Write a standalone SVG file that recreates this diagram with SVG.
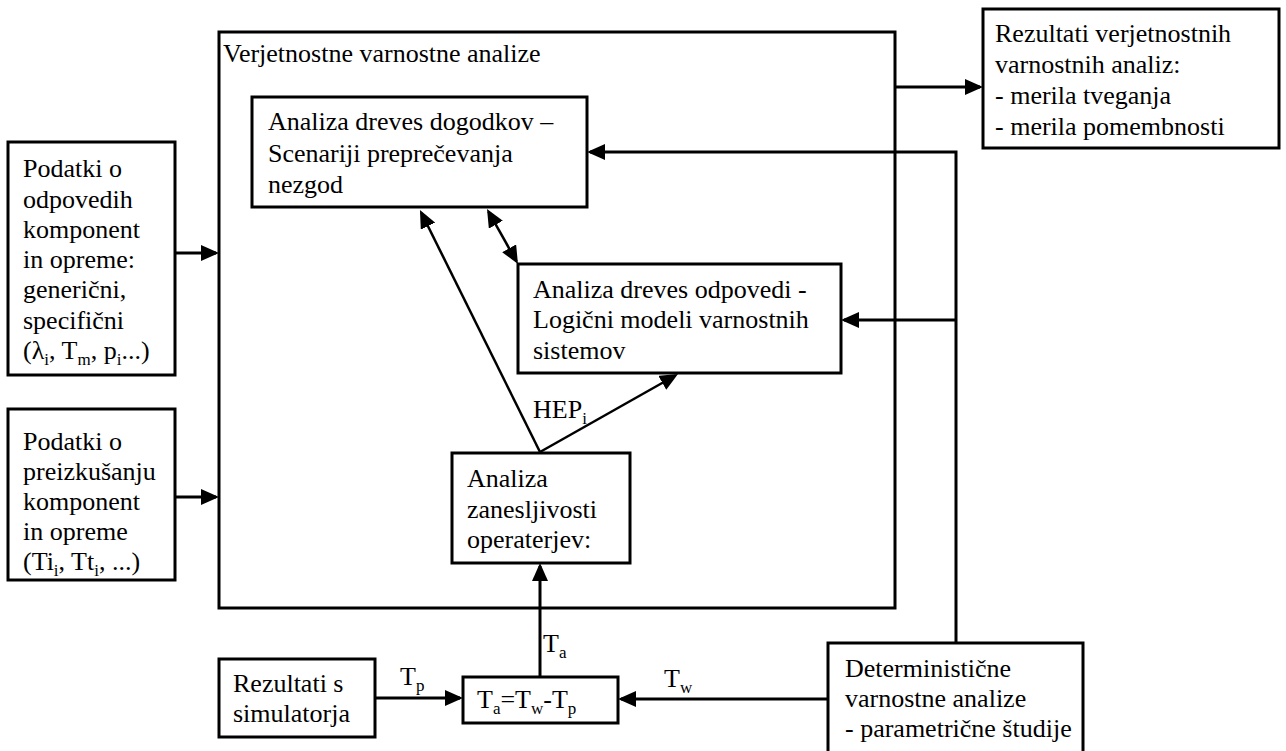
<svg xmlns="http://www.w3.org/2000/svg" width="1286" height="751" viewBox="0 0 1286 751" font-family="'Liberation Serif', 'Times New Roman', Times, 'DejaVu Serif', serif">
<style>
text{font-family:'Liberation Serif','Times New Roman',Times,'DejaVu Serif',serif;font-size:26px;fill:#000}
.box{fill:#fff;stroke:#000;stroke-width:3}
.big{fill:none;stroke:#000;stroke-width:3}
.c{fill:none;stroke:#000;stroke-width:3}
.d{fill:none;stroke:#000;stroke-width:2.5}
.ar{marker-end:url(#ah)}
.sub{font-size:17px}
</style>
<defs>
<marker id="ah" viewBox="0 0 18 16" refX="15" refY="8" markerWidth="18" markerHeight="16" markerUnits="userSpaceOnUse" orient="auto-start-reverse"><path d="M0,0 L18,8 L0,16 z" fill="#000"/></marker>
</defs>
<rect width="1286" height="751" fill="#fff"/>

<g id="pva">
<rect class="big" x="219" y="32" width="676" height="576"/>
<text x="223" y="62">Verjetnostne varnostne analize</text>
</g>

<g id="connectors">
<line class="c ar" x1="175" y1="253" x2="216" y2="253"/>
<line class="c ar" x1="175" y1="497" x2="216" y2="497"/>
<line class="c ar" x1="895" y1="87" x2="980" y2="87"/>
<polyline class="c ar" points="956,643 956,152 590,152"/>
<line class="c ar" x1="956" y1="320" x2="844" y2="320"/>
<line class="d ar" x1="540" y1="452" x2="421.3" y2="212.7"/>
<line class="d ar" x1="540" y1="452" x2="675.4" y2="375.5"/>
<line class="d ar" x1="488.5" y1="211.6" x2="516.5" y2="261.4" style="marker-start:url(#ah)"/>
<line class="c ar" x1="540" y1="677" x2="540" y2="566"/>
<line class="c ar" x1="375" y1="698" x2="460" y2="698"/>
<line class="c ar" x1="828" y1="699" x2="621" y2="699"/>
<text x="533" y="418">HEP<tspan class="sub" dy="6">i</tspan></text>
<text x="543" y="652">T<tspan class="sub" dy="6">a</tspan></text>
<text x="400" y="685">T<tspan class="sub" dy="6">p</tspan></text>
<text x="664" y="687">T<tspan class="sub" dy="6">w</tspan></text>
</g>

<g id="podatki-odpovedi">
<rect class="box" x="8" y="142" width="167" height="233"/>
<text x="23" y="177">Podatki o</text>
<text x="23" y="208">odpovedih</text>
<text x="23" y="238">komponent</text>
<text x="23" y="268">in opreme:</text>
<text x="23" y="298">generični,</text>
<text x="23" y="329">specifični</text>
<text x="23" y="359">(λ<tspan class="sub" dy="6">i</tspan><tspan dy="-6">, T</tspan><tspan class="sub" dy="6">m</tspan><tspan dy="-6">, p</tspan><tspan class="sub" dy="6">i</tspan><tspan dy="-6">...)</tspan></text>
</g>

<g id="podatki-preizkusanje">
<rect class="box" x="8" y="409" width="167" height="171"/>
<text x="23" y="450">Podatki o</text>
<text x="23" y="480">preizkušanju</text>
<text x="23" y="510">komponent</text>
<text x="23" y="540">in opreme</text>
<text x="23" y="570">(Ti<tspan class="sub" dy="6">i</tspan><tspan dy="-6">, Tt</tspan><tspan class="sub" dy="6">i</tspan><tspan dy="-6">, ...)</tspan></text>
</g>

<g id="rezultati-pva">
<rect class="box" x="983" y="9" width="296" height="139"/>
<text x="995" y="42">Rezultati verjetnostnih</text>
<text x="995" y="73">varnostnih analiz:</text>
<text x="995" y="104">- merila tveganja</text>
<text x="995" y="135">- merila pomembnosti</text>
</g>

<g id="drevesa-dogodkov">
<rect class="box" x="252" y="97" width="335" height="110"/>
<text x="268" y="130">Analiza dreves dogodkov –</text>
<text x="268" y="162">Scenariji preprečevanja</text>
<text x="268" y="193">nezgod</text>
</g>

<g id="drevesa-odpovedi">
<rect class="box" x="518" y="264" width="323" height="109"/>
<text x="533" y="298">Analiza dreves odpovedi -</text>
<text x="533" y="328">Logični modeli varnostnih</text>
<text x="533" y="359">sistemov</text>
</g>

<g id="zanesljivost-operaterjev">
<rect class="box" x="452" y="453" width="178" height="110"/>
<text x="467" y="487">Analiza</text>
<text x="467" y="518">zanesljivosti</text>
<text x="467" y="548">operaterjev:</text>
</g>

<g id="simulator">
<rect class="box" x="219" y="659" width="156" height="78"/>
<text x="233" y="692">Rezultati s</text>
<text x="233" y="722">simulatorja</text>
</g>

<g id="formula">
<rect class="box" x="463" y="677" width="155" height="46"/>
<text x="477" y="708">T<tspan class="sub" dy="6">a</tspan><tspan dy="-6">=T</tspan><tspan class="sub" dy="6">w</tspan><tspan dy="-6">-T</tspan><tspan class="sub" dy="6">p</tspan></text>
</g>

<g id="deterministicne">
<rect class="box" x="828" y="643" width="255" height="112"/>
<text x="845" y="677">Deterministične</text>
<text x="845" y="707">varnostne analize</text>
<text x="845" y="737">- parametrične študije</text>
</g>
</svg>
